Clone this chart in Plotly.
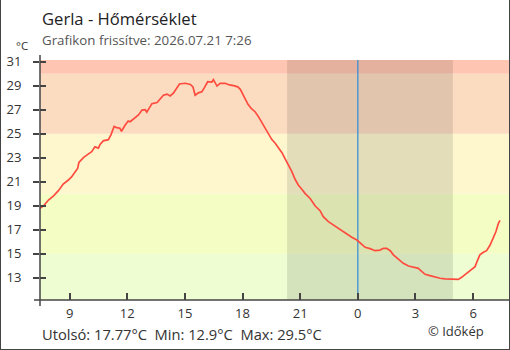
import plotly.graph_objects as go

# ---- data ----
times = [
    "2026-07-20 07:27", "2026-07-20 07:38", "2026-07-20 07:54", "2026-07-20 08:09", "2026-07-20 08:25",
    "2026-07-20 08:40", "2026-07-20 08:56", "2026-07-20 09:06", "2026-07-20 09:17", "2026-07-20 09:25",
    "2026-07-20 09:29", "2026-07-20 09:43", "2026-07-20 09:58", "2026-07-20 10:09", "2026-07-20 10:19",
    "2026-07-20 10:30", "2026-07-20 10:35", "2026-07-20 10:45", "2026-07-20 11:01", "2026-07-20 11:09",
    "2026-07-20 11:19", "2026-07-20 11:27", "2026-07-20 11:37", "2026-07-20 11:42", "2026-07-20 11:53",
    "2026-07-20 12:03", "2026-07-20 12:09", "2026-07-20 12:25", "2026-07-20 12:35", "2026-07-20 12:46",
    "2026-07-20 12:56", "2026-07-20 13:01", "2026-07-20 13:12", "2026-07-20 13:17", "2026-07-20 13:33",
    "2026-07-20 13:43", "2026-07-20 13:53", "2026-07-20 14:04", "2026-07-20 14:14", "2026-07-20 14:24",
    "2026-07-20 14:33", "2026-07-20 14:43", "2026-07-20 15:01", "2026-07-20 15:17", "2026-07-20 15:25",
    "2026-07-20 15:32", "2026-07-20 15:42", "2026-07-20 15:53", "2026-07-20 16:00", "2026-07-20 16:11",
    "2026-07-20 16:24", "2026-07-20 16:29", "2026-07-20 16:40", "2026-07-20 16:50", "2026-07-20 17:06",
    "2026-07-20 17:19", "2026-07-20 17:32", "2026-07-20 17:45", "2026-07-20 17:53", "2026-07-20 18:00",
    "2026-07-20 18:08", "2026-07-20 18:17", "2026-07-20 18:27", "2026-07-20 18:39", "2026-07-20 18:50",
    "2026-07-20 19:00", "2026-07-20 19:11", "2026-07-20 19:21", "2026-07-20 19:31", "2026-07-20 19:42",
    "2026-07-20 19:52", "2026-07-20 20:03", "2026-07-20 20:13", "2026-07-20 20:23", "2026-07-20 20:34",
    "2026-07-20 20:44", "2026-07-20 20:54", "2026-07-20 21:05", "2026-07-20 21:15", "2026-07-20 21:31",
    "2026-07-20 21:47", "2026-07-20 22:02", "2026-07-20 22:12", "2026-07-20 22:28", "2026-07-20 22:39",
    "2026-07-20 22:54", "2026-07-20 23:10", "2026-07-20 23:25", "2026-07-20 23:41", "2026-07-20 23:57",
    "2026-07-21 00:12", "2026-07-21 00:23", "2026-07-21 00:38", "2026-07-21 00:54", "2026-07-21 01:09",
    "2026-07-21 01:20", "2026-07-21 01:30", "2026-07-21 01:41", "2026-07-21 01:51", "2026-07-21 02:06",
    "2026-07-21 02:22", "2026-07-21 02:38", "2026-07-21 02:53", "2026-07-21 03:09", "2026-07-21 03:14",
    "2026-07-21 03:30", "2026-07-21 03:45", "2026-07-21 04:01", "2026-07-21 04:17", "2026-07-21 04:32",
    "2026-07-21 04:42", "2026-07-21 04:58", "2026-07-21 05:14", "2026-07-21 05:24", "2026-07-21 05:40",
    "2026-07-21 05:55", "2026-07-21 06:06", "2026-07-21 06:14", "2026-07-21 06:21", "2026-07-21 06:32",
    "2026-07-21 06:42", "2026-07-21 06:53", "2026-07-21 07:03", "2026-07-21 07:11", "2026-07-21 07:19",
    "2026-07-21 07:24",
]
temps = [
    18.78, 18.97, 19.47, 19.80, 20.25,
    20.80, 21.14, 21.40, 21.80, 22.10,
    22.60, 23.00, 23.30, 23.50, 23.90,
    23.80, 24.10, 24.40, 24.50, 24.90,
    25.60, 25.50, 25.45, 25.20, 25.70,
    26.06, 26.00, 26.30, 26.56, 26.97,
    27.00, 26.80, 27.25, 27.50, 27.60,
    27.95, 28.20, 28.30, 28.14, 28.37,
    28.70, 29.14, 29.20, 29.10, 28.90,
    28.20, 28.40, 28.50, 28.80, 29.33,
    29.30, 29.50, 28.97, 29.20, 29.20,
    29.06, 29.00, 28.90, 28.70, 28.30,
    27.95, 27.45, 27.10, 26.83, 26.40,
    25.95, 25.45, 24.95, 24.53, 24.20,
    23.83, 23.42, 22.90, 22.40, 21.83,
    21.20, 20.73, 20.37, 20.03, 19.60,
    18.97, 18.58, 18.08, 17.67, 17.47,
    17.25, 16.92, 16.70, 16.37, 16.14,
    15.80, 15.53, 15.42, 15.25, 15.30,
    15.45, 15.45, 15.25, 14.90, 14.53,
    14.20, 13.97, 13.87, 13.78, 13.64,
    13.28, 13.17, 13.03, 12.95, 12.90,
    12.90, 12.92, 12.86, 13.03, 13.36,
    13.64, 13.92, 14.47, 14.90, 15.12,
    15.25, 15.72, 16.28, 16.83, 17.53,
    17.77,
]
tick_vals = ["2026-07-20 09:00", "2026-07-20 12:00", "2026-07-20 15:00", "2026-07-20 18:00",
             "2026-07-20 21:00", "2026-07-21 00:00", "2026-07-21 03:00", "2026-07-21 06:00"]
tick_text = ["9", "12", "15", "18", "21", "0", "3", "6"]
y_ticks = [13, 15, 17, 19, 21, 23, 25, 27, 29, 31]
x_range = ["2026-07-20 07:27:30", "2026-07-21 07:52"]
y_range = [11.14, 31.14]
band_edges = [11.14, 15, 20, 25, 30, 31.14]
band_colors = ["#EEFDD2", "#F4FEC4", "#FEF7CE", "#FCDCC1", "#FEC6B2"]
sunset = "2026-07-20 20:19"
sunrise = "2026-07-21 04:57"
midnight = "2026-07-21 00:00"
title = "Gerla - Hőmérséklet"
subtitle = "Grafikon frissítve: 2026.07.21 7:26"
footer = "Utolsó: 17.77°C  Min: 12.9°C  Max: 29.5°C"
credit = "© Időkép"

FONT = "Open Sans"
W, H = 510, 350
L, R, T, B = 40, 1, 60, 50
PW, PH = W - L - R, H - T - B


def px(xp):
    return (xp - L) / PW


def py(yp):
    return (H - B - yp) / PH


fig = go.Figure()
fig.add_trace(go.Scatter(x=times, y=temps, mode="lines",
                         line=dict(color="#FF4B3E", width=1.7), hoverinfo="skip"))
# invisible trace on overlay axis so it renders
fig.add_trace(go.Scatter(x=[times[0]], y=[temps[0]], yaxis="y2", mode="markers",
                         marker=dict(opacity=0), hoverinfo="skip"))

shapes = []
for i, c in enumerate(band_colors):
    shapes.append(dict(type="rect", xref="paper", yref="y", x0=0, x1=1,
                       y0=band_edges[i], y1=band_edges[i + 1], fillcolor=c,
                       line=dict(width=0), layer="below"))
shapes.append(dict(type="rect", xref="x", yref="paper", x0=sunset, x1=sunrise, y0=0, y1=1,
                   fillcolor="rgba(0,0,0,0.10)", line=dict(width=0), layer="below"))
shapes.append(dict(type="line", xref="x", yref="paper", x0=midnight, x1=midnight, y0=0, y1=1,
                   line=dict(color="#2F8BD6", width=1.2), layer="below"))
# axis lines
shapes.append(dict(type="line", xref="paper", yref="paper", x0=0, x1=0, y0=py(306), y1=py(55),
                   line=dict(color="#444", width=1.5)))
shapes.append(dict(type="line", xref="paper", yref="paper", x0=px(34), x1=1, y0=0, y1=0,
                   line=dict(color="#444", width=1.5)))
# outer border
for (x0, y0, x1, y1) in [(0.5, 0, 0.5, 349.5), (509.5, 0, 509.5, 349.5), (0, 349.5, 510, 349.5)]:
    shapes.append(dict(type="line", xref="paper", yref="paper", x0=px(x0), x1=px(x1),
                       y0=py(y0), y1=py(y1), line=dict(color="#444", width=1)))

annotations = [
    dict(text=title, x=px(40), y=py(19), xref="paper", yref="paper", xanchor="left",
         yanchor="middle", showarrow=False, font=dict(family=FONT, size=16.6, color="#222")),
    dict(text=subtitle, x=px(40), y=py(40), xref="paper", yref="paper", xanchor="left",
         yanchor="middle", showarrow=False, font=dict(family=FONT, size=13.3, color="#555")),
    dict(text="°C", x=px(29), y=py(45), xref="paper", yref="paper", xanchor="right",
         yanchor="middle", showarrow=False, borderpad=0,
         font=dict(family=FONT, size=11.5, color="#333")),
    dict(text=footer, x=px(40), y=py(334), xref="paper", yref="paper", xanchor="left",
         yanchor="middle", showarrow=False, font=dict(family=FONT, size=14.7, color="#333")),
    dict(text=credit, x=px(426), y=py(331), xref="paper", yref="paper", xanchor="left",
         yanchor="middle", showarrow=False, font=dict(family=FONT, size=13, color="#333")),
]

fig.update_layout(
    width=W, height=H, margin=dict(l=L, r=R, t=T, b=B),
    paper_bgcolor="white", plot_bgcolor="white", showlegend=False,
    shapes=shapes, annotations=annotations,
    xaxis=dict(type="date", range=x_range, tickvals=tick_vals, ticktext=tick_text,
               ticks="inside", ticklen=7, tickcolor="#444", tickwidth=1.5,
               showgrid=False, zeroline=False, showline=False,
               tickfont=dict(family=FONT, size=13, color="#333"), ticklabelstandoff=4),
    yaxis=dict(range=y_range, tickvals=y_ticks, ticks="outside", ticklen=6,
               tickcolor="#444", tickwidth=1.5, showgrid=False, zeroline=False,
               showline=False, tickfont=dict(family=FONT, size=13, color="#333"),
               ticklabelstandoff=9),
    yaxis2=dict(range=y_range, tickvals=y_ticks, overlaying="y", side="left",
                ticks="inside", ticklen=6, tickcolor="#444", tickwidth=1.5,
                showticklabels=False, showgrid=False, zeroline=False, showline=False),
)

fig.write_html("out.html")
